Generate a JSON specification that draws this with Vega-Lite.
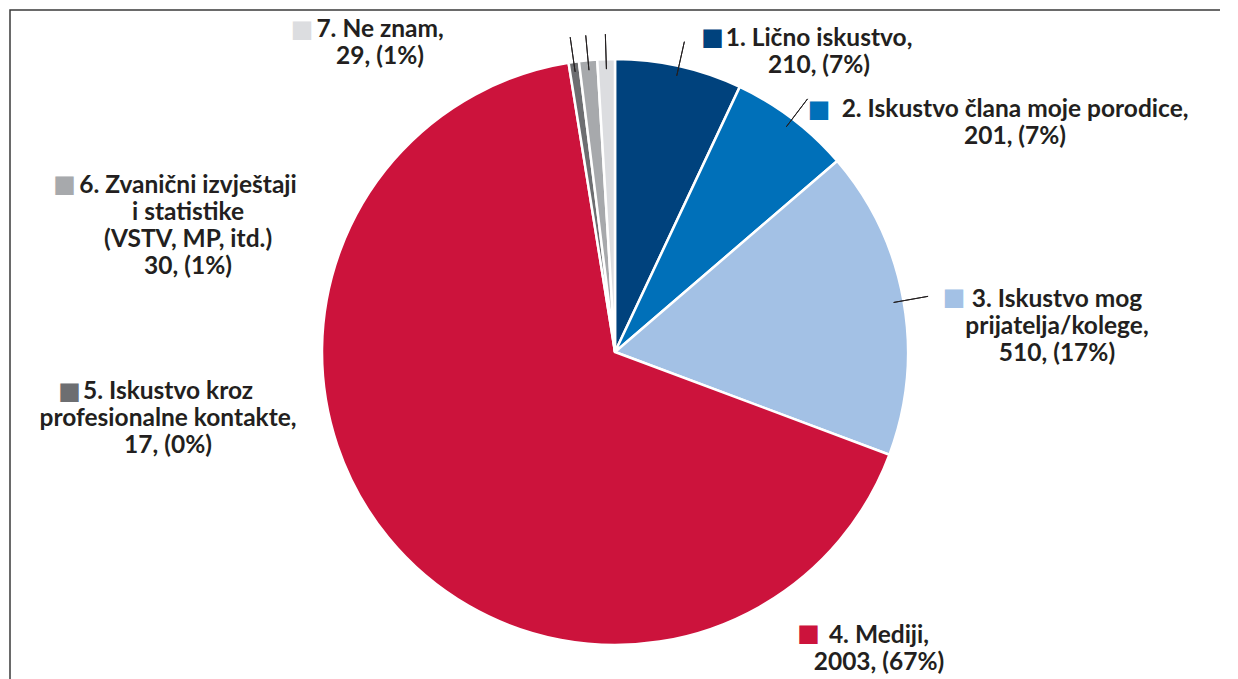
{
  "$schema": "https://vega.github.io/schema/vega-lite/v6.json",
  "width": 1210,
  "height": 684,
  "autosize": {"type": "none"},
  "padding": {"left": 10, "top": 10, "right": 0, "bottom": 0},
  "background": "white",
  "view": {"stroke": "#3a3a3a", "strokeWidth": 1.5, "strokeDash": {"expr": "[1210, 684, 1894]"}},
  "config": {"style": {"cell": {"strokeDash": [1210, 684, 1894]}}},
  "data": {"values": [
    {"id": 1, "label": "1. Lično iskustvo,\n210, (7%)", "value": 210},
    {"id": 2, "label": "2. Iskustvo člana moje porodice,\n201, (7%)", "value": 201},
    {"id": 3, "label": "3. Iskustvo mog\nprijatelja/kolege,\n510, (17%)", "value": 510},
    {"id": 4, "label": "4. Mediji,\n2003, (67%)", "value": 2003},
    {"id": 5, "label": "5. Iskustvo kroz\nprofesionalne kontakte,\n17, (0%)", "value": 17},
    {"id": 6, "label": "6. Zvanični izvještaji\ni statistike\n(VSTV, MP, itd.)\n30, (1%)", "value": 30},
    {"id": 7, "label": "7. Ne znam,\n29, (1%)", "value": 29}
  ]},
  "encoding": {
    "theta": {"field": "value", "type": "quantitative", "stack": true},
    "order": {"field": "id", "type": "quantitative"}
  },
  "layer": [
    {
      "mark": {"type": "arc", "outerRadius": 293, "stroke": "white", "strokeWidth": 2.5},
      "encoding": {
        "color": {"field": "id", "type": "nominal",
          "scale": {"domain": [1, 2, 3, 4, 5, 6, 7], "range": ["#00427d", "#0070b9", "#a3c1e5", "#cc133c", "#6d6e71", "#a7a9ac", "#dcdde0"]},
          "legend": null}
      }
    },
    {
      "mark": {"type": "arc", "innerRadius": 283, "outerRadius": 318, "padAngle": 3, "fillOpacity": 0, "stroke": "#231f20", "strokeWidth": 1},
      "encoding": {
        "strokeOpacity": {"condition": {"test": "datum.id == 4", "value": 0}, "value": 1}
      }
    },
    {
      "mark": {"type": "text", "radius": 305, "font": "Lato", "fontWeight": "bold", "fontSize": 24.5, "lineHeight": 27, "lineBreak": "\n",
        "align": "center", "baseline": "alphabetic", "color": "#231f20",
        "dx": {"expr": "[0, 137.5, 215.4, 141.7, 500, -404, -398.9, -225.7][datum.id]"},
        "dy": {"expr": "[0, -8.4, 7.8, 8.4, 97.8, 349, 144.7, -10.1][datum.id]"}},
      "encoding": {"text": {"field": "label"}}
    },
    {
      "mark": {"type": "text", "radius": 305, "font": "DejaVu Sans", "fontSize": 24, "align": "center", "baseline": "middle",
        "dx": {"expr": "[0, 31, 19.4, 38.7, 429.5, -502.5, -522.4, -303.7][datum.id]"},
        "dy": {"expr": "[0, -16.4, 0.3, -1.1, 89.3, 341.5, 137.2, -17.6][datum.id]"}},
      "encoding": {
        "text": {"value": "■"},
        "color": {"field": "id", "type": "nominal", "legend": null}
      }
    }
  ]
}
